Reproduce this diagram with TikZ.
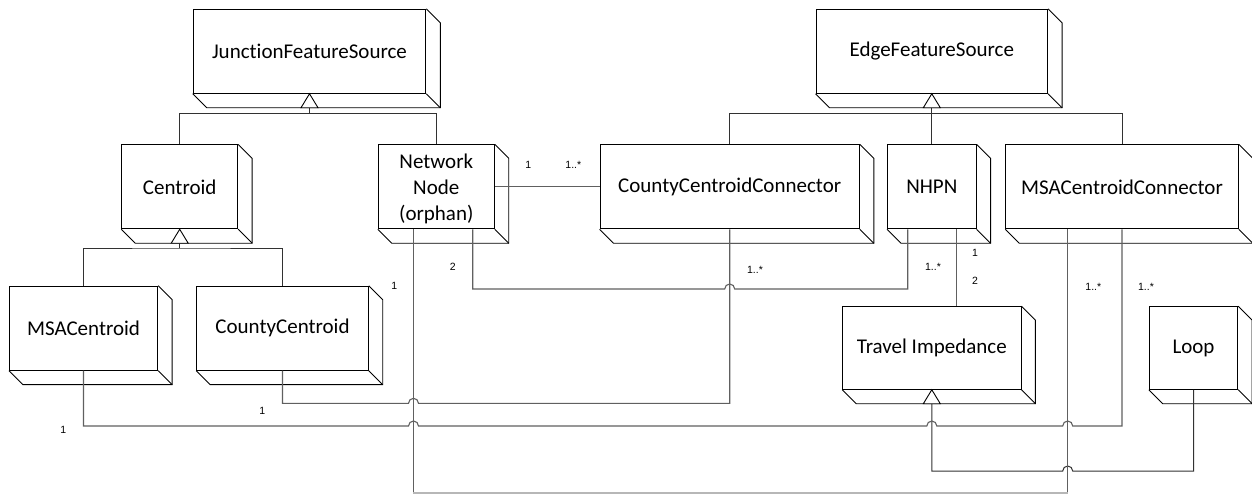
\documentclass[tikz,border=0pt]{standalone}
\usepackage{fontspec}
\setmainfont{Carlito}[RawFeature={-liga;-clig;-dlig;-calt}]
\newfontfamily\labelfont{Liberation Sans}
\definecolor{assoccol}{RGB}{96,96,96}
\definecolor{gencol}{RGB}{50,50,50}
\tikzset{
  cls/.style={draw=black, line width=0.9pt, inner sep=0pt, minimum height=84pt,
    font=\fontsize{21}{25.8}\selectfont, align=center},
  clstext/.style={inner sep=0pt, font=\fontsize{21}{25.8}\selectfont, align=center},
  clsedge/.style={draw=black, line width=0.9pt, line join=miter},
  genline/.style={draw=gencol, line width=1pt},
  gentri/.style={draw=black, fill=white, line width=0.9pt},
  assoc/.style={draw=assoccol, line width=1.1pt},
  mult/.style={font=\labelfont\fontsize{10.5}{12}\selectfont, inner sep=0pt},
}
% depth faces of a box-shaped class node
\newcommand\extrude[1]{%
  \draw[clsedge] (#1.north east) -- ([shift={(14,14)}]#1.north east)
    -- ([shift={(14,14)}]#1.south east) -- ([shift={(14,14)}]#1.south west)
    -- (#1.south west);
  \draw[clsedge] (#1.south east) -- ([shift={(14,14)}]#1.south east);}
% hollow inheritance triangle below a parent class
\newcommand\gentriangle[1]{%
  \draw[gentri] (#1.south) -- ([shift={(-8.5,14)}]#1.south)
    -- ([shift={(8.5,14)}]#1.south) -- cycle;}
\begin{document}
\begin{tikzpicture}[x=1pt,y=-1pt]
\useasboundingbox (0,0) rectangle (1252,493);
\fill[white] (0,0) rectangle (1252,493);

% classes
\node[cls, minimum width=232.7pt] (JFS) at (309.5,51.3) {JunctionFeatureSource};
\node[cls, minimum width=231.7pt] (EFS) at (931.8,51.3) {EdgeFeatureSource};
\node[cls, minimum width=116pt] (Centroid) at (179.7,186.8) {Centroid};
\node[cls, minimum width=116pt] (NN) at (436.3,186.8) {};
\node[clstext] (NNtext) at (436.3,188.6) {Network\\Node\\(orphan)};
\node[cls, minimum width=259.3pt] (CCC) at (729.7,186.8) {CountyCentroidConnector};
\node[cls, minimum width=88.7pt] (NHPN) at (931.8,186.8) {NHPN};
\node[cls, minimum width=232.6pt] (MSACC) at (1122,186.8) {MSACentroidConnector};
\node[cls, minimum width=148.4pt] (MSAC) at (83.5,328.2) {MSACentroid};
\node[cls, minimum width=171.6pt] (CountyC) at (282.5,328.2) {CountyCentroid};
\node[cls, minimum width=178.3pt, minimum height=82.6pt] (TI) at (931.8,348) {Travel Impedance};
\node[cls, minimum width=88.4pt, minimum height=82.6pt] (Loop) at (1193.5,348) {Loop};

\foreach \n in {JFS,EFS,Centroid,NN,CCC,NHPN,MSACC,MSAC,CountyC,TI,Loop}{\extrude{\n}}

% attachment points on the class boxes
\coordinate (nnL) at ([xshift=-22.8pt]NN.south);
\coordinate (nnR) at ([xshift=36.4pt]NN.south);
\coordinate (nhL) at ([xshift=-24.1pt]NHPN.south);
\coordinate (nhR) at ([xshift=24.9pt]NHPN.south);
\coordinate (msaL) at ([xshift=-54.3pt]MSACC.south);

% generalizations
\coordinate (jbar) at (309.5,113.3);
\draw[genline] ([shift={(0,14)}]JFS.south) -- (jbar);
\draw[genline] (Centroid.north) |- (jbar) -| (NN.north);
\gentriangle{JFS}

\coordinate (ebar) at (931.8,113.3);
\draw[genline] ([shift={(0,14)}]EFS.south) -- (NHPN.north);
\draw[genline] (CCC.north) |- (ebar) -| (MSACC.north);
\gentriangle{EFS}

\coordinate (cbar) at (179.7,248);
\draw[genline] ([shift={(0,14)}]Centroid.south) -- (cbar);
\draw[genline] (MSAC.north) |- (cbar) -| (CountyC.north);
\gentriangle{Centroid}

\draw[genline] ([shift={(0,14)}]TI.south) -- (931.8,471) -- (1062.7,471)
  arc[start angle=180, end angle=360, radius=5] -- (1193.5,471) -- (Loop.south);
\gentriangle{TI}

% associations
\draw[assoc] (NN.east) -- (CCC.west);
\draw[assoc] (nnR) -- (472.7,289) -- (724.7,289)
  arc[start angle=180, end angle=360, radius=5] -- (907.7,289) -- (nhL);
\draw[assoc] (CCC.south) -- (729.7,403.3) -- (418.5,403.3)
  arc[start angle=0, end angle=-180, radius=5] -- (282.5,403.3) -- (CountyC.south);
\draw[assoc] (MSACC.south) -- (1122,426) -- (1072.7,426)
  arc[start angle=0, end angle=-180, radius=5] -- (936.8,426)
  arc[start angle=0, end angle=-180, radius=5] -- (418.5,426)
  arc[start angle=0, end angle=-180, radius=5] -- (83.5,426) -- (MSAC.south);
\draw[assoc, draw=assoccol!45] (nnL) -- (413.5,493) -- (1067.7,493) -- (msaL);
\draw[assoc] (nnL) -- (413.5,492.4);
\draw[assoc] (msaL) -- (1067.7,492.4);
\draw[assoc] (nhR) -- (nhR |- TI.north);

% multiplicities
\node[mult] (m1) at (528.3,165) {1};
\node[mult] (m2) at (573.3,165) {1..*};
\node[mult] (m3) at (452.7,266.7) {2};
\node[mult] (m4) at (933,266.7) {1..*};
\node[mult] (m5) at (755,270) {1..*};
\node[mult] (m6) at (262.3,411) {1};
\node[mult] (m7) at (975,253.3) {1};
\node[mult] (m8) at (975,281) {2};
\node[mult] (m9) at (394.3,286) {1};
\node[mult] (m10) at (1093.3,286.7) {1..*};
\node[mult] (m11) at (1146,286.7) {1..*};
\node[mult] (m12) at (63.3,430) {1};
\end{tikzpicture}
\end{document}
